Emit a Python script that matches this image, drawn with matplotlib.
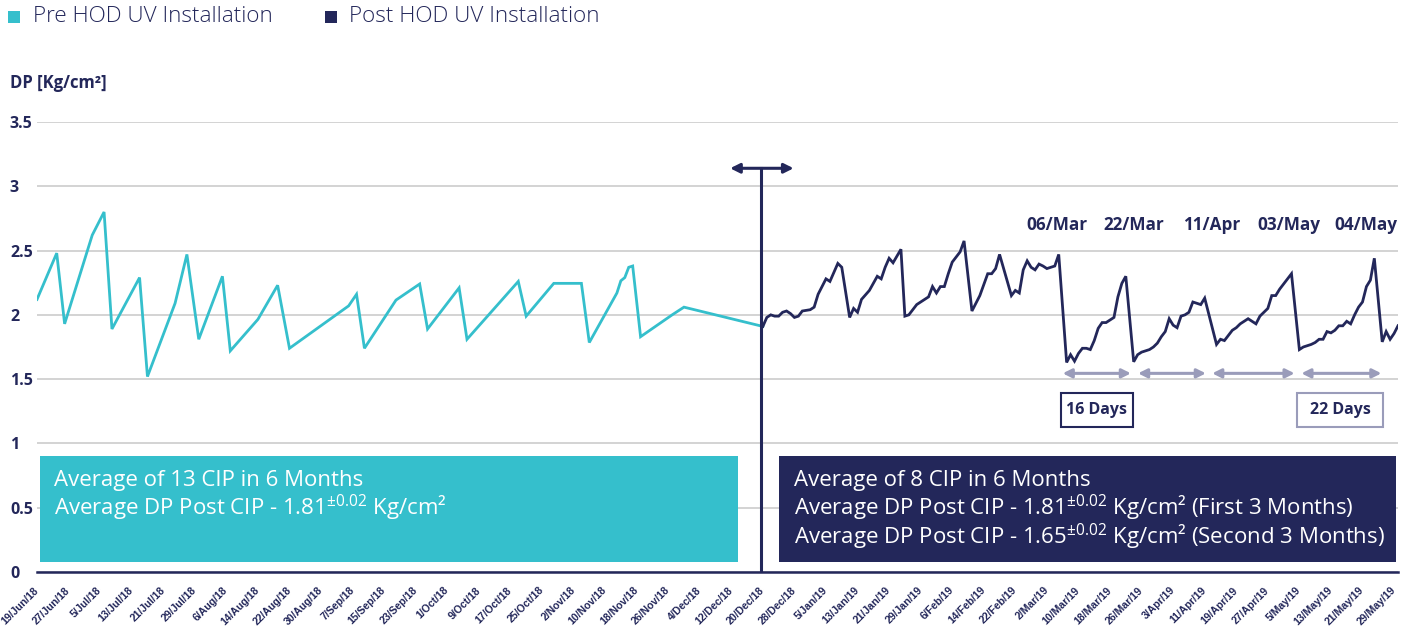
import matplotlib
matplotlib.use("Agg")
import matplotlib.pyplot as plt
from matplotlib.patches import Rectangle, FancyArrowPatch

plt.rcParams['font.family'] = ['Open Sans', 'DejaVu Sans']
plt.rcParams['mathtext.fontset'] = 'custom'
plt.rcParams['mathtext.rm'] = 'Open Sans'
plt.rcParams['mathtext.it'] = 'Open Sans'
plt.rcParams['mathtext.bf'] = 'Open Sans:bold'

TEAL = '#35BFCC'
NAVY = '#23275A'
ARROW = '#9A9CBA'
GRID = '#D0D0D0'

# ---------------- data (x = days since 19/Jun/18) ----------------
pre_days = [0, 5, 7, 14, 17, 19, 26, 28, 35, 38, 41, 47, 49, 56, 61, 64, 79, 81, 83,
            91, 97, 99, 107, 109, 122, 124, 131, 138, 140, 147, 148, 149, 150, 151, 153,
            161, 164, 184]
pre_dp = [2.12, 2.48, 1.93, 2.62, 2.80, 1.89, 2.29, 1.52, 2.09, 2.47, 1.81, 2.30, 1.72,
          1.965, 2.23, 1.74, 2.07, 2.16, 1.74,
          2.115, 2.24, 1.89, 2.21, 1.81, 2.26, 1.99, 2.245, 2.245, 1.785, 2.17, 2.265,
          2.29, 2.37, 2.38, 1.83, 2.00, 2.06, 1.91]

post_days = [184, 185, 186, 187, 188, 189, 190, 191, 192, 193, 194, 196, 197, 198, 200,
             201, 203, 204, 206, 207, 208, 209, 211, 212, 213, 214, 215, 216, 217, 219,
             220, 221, 223, 224, 226, 227, 228, 229, 230, 231, 232, 234, 235, 237, 239,
             241, 242, 243, 244, 247, 248, 249, 250, 251, 252, 253, 254, 255, 256, 257,
             258, 259, 261, 262, 263, 264, 265, 266, 267, 268, 269, 270, 271, 272, 273,
             274, 275, 276, 278, 279, 280, 281, 282, 283, 284, 285, 286, 287, 288, 289,
             290, 291, 292, 293, 294, 295, 296, 299, 300, 301, 302, 303, 304, 305, 306,
             307, 308, 309, 310, 311, 312, 313, 314, 315, 316, 317, 318, 320, 321, 322,
             323, 324, 325, 326, 327, 328, 329, 330, 331, 332, 333, 334, 335, 336, 337,
             338, 339, 341, 342, 343, 344, 345]
post_dp = [1.91, 1.98, 2.00, 1.99, 1.99, 2.02, 2.03, 2.01, 1.98, 1.99, 2.03, 2.04, 2.06,
           2.16, 2.28, 2.26, 2.40, 2.37, 1.98, 2.05, 2.02, 2.12, 2.19, 2.245, 2.30, 2.28,
           2.37, 2.44, 2.405, 2.51, 1.99, 2.00, 2.08, 2.10, 2.14, 2.22, 2.17, 2.22, 2.22,
           2.32, 2.41, 2.49, 2.575, 2.03, 2.15, 2.32, 2.32, 2.36, 2.47, 2.15, 2.19, 2.17,
           2.35, 2.42, 2.37, 2.35, 2.395, 2.38, 2.36, 2.37, 2.38, 2.47, 1.63, 1.69, 1.64,
           1.70, 1.74, 1.74, 1.73, 1.80, 1.895, 1.94, 1.94, 1.96, 1.98, 2.14, 2.245, 2.30,
           1.635, 1.69, 1.71, 1.72, 1.73, 1.75, 1.78, 1.83, 1.87, 1.97, 1.92, 1.90, 1.99,
           2.00, 2.02, 2.10, 2.09, 2.08, 2.13, 1.77, 1.81, 1.80, 1.84, 1.88, 1.90, 1.93,
           1.95, 1.97, 1.95, 1.93, 1.99, 2.02, 2.05, 2.15, 2.15, 2.20, 2.24, 2.28, 2.32,
           1.73, 1.75, 1.76, 1.77, 1.785, 1.81, 1.81, 1.87, 1.86, 1.88, 1.915, 1.915, 1.95,
           1.93, 2.00, 2.06, 2.10, 2.22, 2.27, 2.44, 1.79, 1.87, 1.81, 1.855, 1.915]

tick_labels = ['19/Jun/18', '27/Jun/18', '5/Jul/18', '13/Jul/18', '21/Jul/18', '29/Jul/18',
               '6/Aug/18', '14/Aug/18', '22/Aug/18', '30/Aug/18', '7/Sep/18', '15/Sep/18',
               '23/Sep/18', '1/Oct/18', '9/Oct/18', '17/Oct/18', '25/Oct/18', '2/Nov/18',
               '10/Nov/18', '18/Nov/18', '26/Nov/18', '4/Dec/18', '12/Dec/18', '20/Dec/18',
               '28/Dec/18', '5/Jan/19', '13/Jan/19', '21/Jan/19', '29/Jan/19', '6/Feb/19',
               '14/Feb/19', '22/Feb/19', '2/Mar/19', '10/Mar/19', '18/Mar/19', '26/Mar/19',
               '3/Apr/19', '11/Apr/19', '19/Apr/19', '27/Apr/19', '5/May/19', '13/May/19',
               '21/May/19', '29/May/19']
y_ticks = [0, 0.5, 1, 1.5, 2, 2.5, 3, 3.5]
y_tick_labels = ['0', '0.5', '1', '1.5', '2', '2.5', '3', '3.5']

peak_labels = ['06/Mar', '22/Mar', '11/Apr', '03/May', '04/May']
cycle_labels = ['16 Days', '22 Days']
series_names = ['Pre HOD UV Installation', 'Post HOD UV Installation']

# ---------------- layout constants ----------------
install_day = 183.6
peak_label_x = [258.6, 278.0, 297.7, 317.4, 336.9]
peak_label_y = 2.70
span_x = [(259.6, 277.7), (278.7, 296.7), (297.5, 319.2), (320.1, 341.2)]
span_y = 1.545

W, H = 1410, 640
fig = plt.figure(figsize=(W / 100, H / 100), dpi=100)
ax = fig.add_axes([37 / W, 68 / H, (1398 - 37) / W, 450 / H])
ax.set_xlim(0, 345)
ax.set_ylim(0, 3.5)

# grid & spines
ax.set_yticks(y_ticks)
ax.set_yticklabels(y_tick_labels)
ax.yaxis.grid(True, color=GRID, lw=1.3, zorder=0)
ax.set_axisbelow(True)
for s in ['top', 'right', 'left']:
    ax.spines[s].set_visible(False)
ax.spines['bottom'].set_color(NAVY)
ax.spines['bottom'].set_linewidth(1.8)
ax.spines['bottom'].set_zorder(5)

ax.tick_params(axis='y', length=0, pad=19.5, labelsize=11.5, labelcolor=NAVY)
for lab in ax.get_yticklabels():
    lab.set_ha('left')
    lab.set_fontweight('bold')

ax.set_xticks(range(0, 8 * len(tick_labels), 8))
ax.set_xticklabels(tick_labels, rotation=45, ha='right', va='center',
                   rotation_mode='anchor', fontsize=7.6, fontweight='bold',
                   color=NAVY, family=['Liberation Sans', 'DejaVu Sans'])
ax.tick_params(axis='x', length=0, pad=12)

# series
ax.plot(pre_days, pre_dp, color=TEAL, lw=2.0, zorder=4, solid_joinstyle='miter')
ax.plot(post_days, post_dp, color=NAVY, lw=2.0, zorder=4, solid_joinstyle='miter')

# installation marker
ax.plot([install_day, install_day], [0, 3.14], color=NAVY, lw=2.2, zorder=6)
ax.add_patch(FancyArrowPatch((175.0, 3.14), (192.5, 3.14), arrowstyle='<|-|>',
                             mutation_scale=14, color=NAVY, lw=2.2, zorder=6))

# peak labels
for lx, txt in zip(peak_label_x, peak_labels):
    ax.text(lx, peak_label_y, txt, ha='center', va='center', fontsize=12.3,
            fontweight='bold', color=NAVY)

# cycle span arrows
for x0, x1 in span_x:
    ax.add_patch(FancyArrowPatch((x0 - 0.3, span_y), (x1 + 0.3, span_y), arrowstyle='<|-|>',
                                 mutation_scale=13, color=ARROW, lw=2.2, zorder=5))

# cycle boxes
for (x0, x1), txt, ec in zip([(259.6, 277.7), (319.5, 341.3)], cycle_labels, [NAVY, ARROW]):
    ax.add_patch(Rectangle((x0, 1.128), x1 - x0, 1.392 - 1.128, facecolor='white',
                           edgecolor=ec, lw=1.5, zorder=5))
    ax.text((x0 + x1) / 2, 1.26, txt, ha='center', va='center', fontsize=11.5,
            fontweight='bold', color=NAVY, zorder=6)

# summary boxes
ax.add_patch(Rectangle((0.76, 0.078), 177.6 - 0.76, 0.902 - 0.078, facecolor=TEAL,
                       edgecolor='none', zorder=3))
ax.add_patch(Rectangle((188.2, 0.078), 344.5 - 188.2, 0.902 - 0.078, facecolor=NAVY,
                       edgecolor='none', zorder=3))
pre_lines = ['Average of 13 CIP in 6 Months',
             r'Average DP Post CIP - 1.81$^{\pm0.02}$ Kg/cm²']
post_lines = ['Average of 8 CIP in 6 Months',
              r'Average DP Post CIP - 1.81$^{\pm0.02}$ Kg/cm² (First 3 Months)',
              r'Average DP Post CIP - 1.65$^{\pm0.02}$ Kg/cm² (Second 3 Months)']
for txt, yy in zip(pre_lines, [0.708, 0.498]):
    ax.text(4.3, yy, txt, ha='left', va='center', fontsize=16, color='white', zorder=6)
for txt, yy in zip(post_lines, [0.708, 0.498, 0.272]):
    ax.text(192.0, yy, txt, ha='left', va='center', fontsize=16, color='white', zorder=6)

# axis title
fig.text(10 / W, 1 - 83 / H, 'DP [Kg/cm²]', ha='left', va='center', fontsize=12,
         fontweight='bold', color=NAVY)

# legend (manual)
for (sx, tx), col, name in zip([(8, 33), (325, 349)], [TEAL, NAVY], series_names):
    fig.add_artist(Rectangle((sx / W, 1 - 23 / H), 12 / W, 12 / H, facecolor=col,
                             edgecolor='none', transform=fig.transFigure))
    fig.text(tx / W, 1 - 17 / H, name, ha='left', va='center', fontsize=16.2,
             color=NAVY, fontweight='light')

fig.savefig('out.png', dpi=100)
